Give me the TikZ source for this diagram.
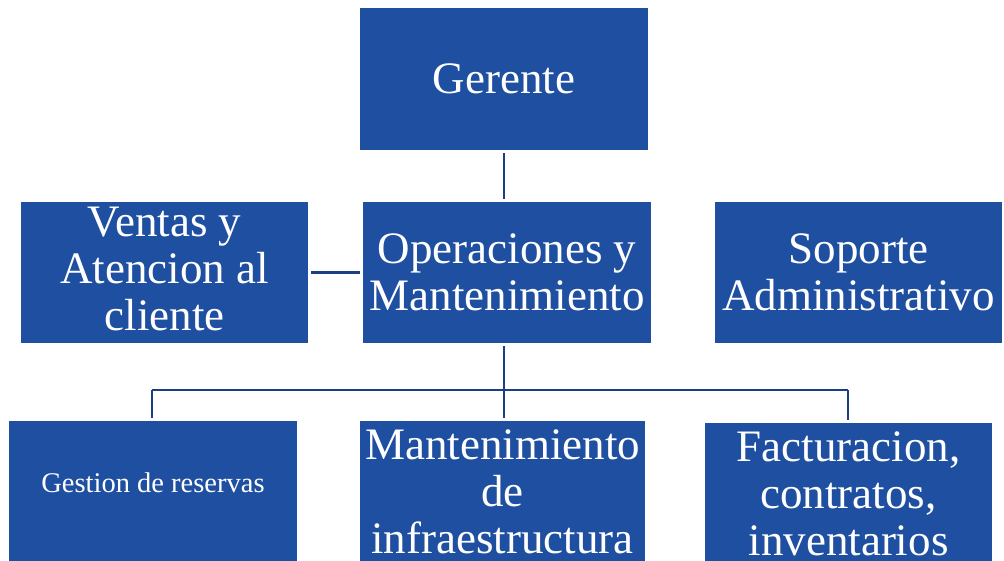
\documentclass[tikz,border=0pt]{standalone}
\usepackage{fontspec}
\setmainfont{Liberation Serif}
\definecolor{boxblue}{RGB}{31,79,160}
\definecolor{lineblue}{RGB}{28,62,130}
\tikzset{
  orgbox/.style={fill=boxblue, draw=none, text=white, align=center, inner sep=0pt,
    minimum width=287pt, minimum height=141pt, font=\fontsize{45}{47}\selectfont},
  smallbox/.style={orgbox, font=\fontsize{28.5}{32}\selectfont},
  conn/.style={draw=lineblue, line width=2.6pt}
}
\begin{document}
\begin{tikzpicture}[x=1pt,y=-1pt]
\useasboundingbox (0,0) rectangle (1004,561);
\node[orgbox, minimum width=288pt, minimum height=142pt] (gerente) at (504,79) {Gerente};
\node[orgbox, text depth=7pt] (ventas) at (164.5,272.5) {Ventas y\\Atencion al\\cliente};
\node[orgbox, minimum width=288pt] (oper) at (507,272.5) {Operaciones y\\Mantenimiento};
\node[orgbox] (soporte) at (858.5,272.5) {Soporte\\Administrativo};
\node[smallbox, minimum width=288pt, text depth=18pt] (gestion) at (153,491.5) {Gestion de reservas};
\node[orgbox, minimum width=285pt] (mant) at (502.5,491.5) {Mantenimiento\\de\\infraestructura};
\node[orgbox] (fact) at (848.5,493.5) {Facturacion,\\contratos,\\inventarios};
\coordinate (busC) at (504,390);
\coordinate (busL) at (152,390);
\coordinate (busR) at (848,390);
\draw[conn, shorten <=3pt, shorten >=3pt] (gerente.south -| busC) -- (oper.north -| busC);
\draw[conn, shorten <=3pt, shorten >=3pt] (ventas.east) -- (oper.west);
\draw[conn, shorten <=3pt] (oper.south -| busC) -- (busC);
\draw[conn] (busL) -- (busR);
\draw[conn, shorten >=3pt] (busL) -- (gestion.north -| busL);
\draw[conn, shorten >=3pt] (busC) -- (mant.north -| busC);
\draw[conn, shorten >=3pt] (busR) -- (fact.north -| busR);
\end{tikzpicture}
\end{document}
